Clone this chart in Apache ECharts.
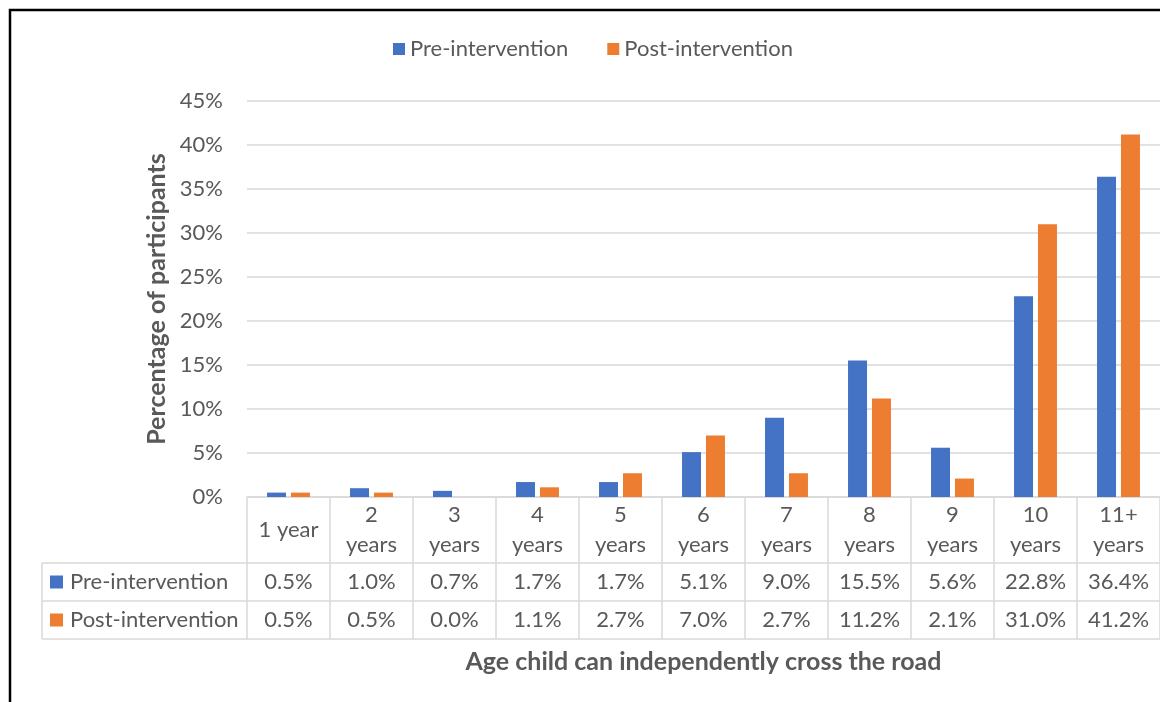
<!DOCTYPE html>
<html>
<head>
<meta charset="utf-8">
<script src="https://cdn.jsdelivr.net/npm/echarts@6/dist/echarts.min.js"></script>
<style>
  html, body { margin: 0; padding: 0; background: #ffffff; }
  #chart { width: 1160px; height: 702px; }
</style>
</head>
<body>
<div id="chart"></div>
<script>
// Age at which parents say a child can cross the road alone (% of participants)
const ageGroups = ['1 year', '2 years', '3 years', '4 years', '5 years', '6 years',
                   '7 years', '8 years', '9 years', '10 years', '11+ years'];
const preIntervention  = [0.5, 1.0, 0.7, 1.7, 1.7, 5.1, 9.0, 15.5, 5.6, 22.8, 36.4];
const postIntervention = [0.5, 0.5, 0.0, 1.1, 2.7, 7.0, 2.7, 11.2, 2.1, 31.0, 41.2];
const seriesNames = ['Pre-intervention', 'Post-intervention'];
const yTickValues = [0, 5, 10, 15, 20, 25, 30, 35, 40, 45];
const yAxisTitle = 'Percentage of participants';
const xAxisTitle = 'Age child can independently cross the road';

const COLORS = ['#4472C4', '#ED7D31'];
const TEXT = '#595959';
const RULE = '#D9D9D9';
const FONT = 'Lato';
const FS = 22;
const TITLE_FS = 25;

const chart = echarts.init(document.getElementById('chart'), null, { renderer: 'canvas' });

const pct = v => v.toFixed(1) + '%';

// Horizontal table rules drawn as bare axis lines
function ruleAxis(offset, extra) {
  return Object.assign({
    type: 'category', data: ageGroups, gridIndex: 0, position: 'bottom', offset: offset,
    axisLine: { show: true, lineStyle: { color: RULE, width: 1.5 } },
    axisTick: { show: false }, axisLabel: { show: false }, splitLine: { show: false }
  }, extra || {});
}

// One data-table row: the values as axis labels, the series key as the axis name
function rowAxis(offset, values, idx) {
  return {
    type: 'category', data: ageGroups, gridIndex: 0, position: 'bottom', offset: offset,
    axisLine: { show: false }, axisTick: { show: false }, splitLine: { show: false },
    axisLabel: {
      interval: 0, margin: 0, verticalAlign: 'middle',
      color: TEXT, fontFamily: FONT, fontSize: FS,
      formatter: (v, i) => pct(values[i])
    },
    name: '{sq| }{gap| }' + seriesNames[idx],
    nameLocation: 'start', nameGap: 197,
    nameTextStyle: {
      align: 'left', verticalAlign: 'middle',
      color: TEXT, fontFamily: FONT, fontSize: FS,
      rich: {
        sq: { width: 13, height: 13, backgroundColor: COLORS[idx] },
        gap: { width: 7 }
      }
    }
  };
}

const option = {
  backgroundColor: '#ffffff',
  animation: false,
  textStyle: { fontFamily: FONT, color: TEXT },
  legend: {
    data: seriesNames,
    left: 393, top: 38, padding: 0,
    itemWidth: 12, itemHeight: 12, itemGap: 39,
    icon: 'rect',
    textStyle: { color: TEXT, fontFamily: FONT, fontSize: FS }
  },
  grid: { left: 247, top: 101, width: 921.5, bottom: 205, containLabel: false },
  yAxis: {
    type: 'value', min: yTickValues[0], max: yTickValues[yTickValues.length - 1],
    interval: yTickValues[1] - yTickValues[0],
    axisLine: { show: false }, axisTick: { show: false },
    splitLine: { lineStyle: { color: RULE, width: 1.5 } },
    axisLabel: { formatter: '{value}%', margin: 24, color: TEXT, fontFamily: FONT, fontSize: FS },
    name: yAxisTitle, nameLocation: 'middle', nameGap: 72,
    nameTextStyle: { color: TEXT, fontFamily: FONT, fontSize: TITLE_FS, fontWeight: 'bold' }
  },
  xAxis: [
    {
      type: 'category', data: ageGroups, gridIndex: 0, position: 'bottom', offset: 0,
      axisLine: { show: true, lineStyle: { color: RULE, width: 1.5 } },
      axisTick: { show: true, interval: 0, length: 142, lineStyle: { color: RULE, width: 1.5 } },
      axisLabel: {
        interval: 0, margin: 33, verticalAlign: 'middle', lineHeight: 30,
        color: TEXT, fontFamily: FONT, fontSize: FS,
        formatter: v => v.replace(' years', '\nyears')
      }
    },
    ruleAxis(66),
    rowAxis(85, preIntervention, 0),
    ruleAxis(104),
    rowAxis(123, postIntervention, 1),
    ruleAxis(142, {
      name: xAxisTitle, nameLocation: 'middle', nameGap: 10,
      nameTextStyle: { color: TEXT, fontFamily: FONT, fontSize: TITLE_FS, fontWeight: 'bold' }
    })
  ],
  series: [
    {
      name: seriesNames[0], type: 'bar', xAxisIndex: 0, data: preIntervention,
      barWidth: 19, barGap: '26%', itemStyle: { color: COLORS[0] }
    },
    {
      name: seriesNames[1], type: 'bar', xAxisIndex: 0, data: postIntervention,
      barWidth: 19, barGap: '26%', itemStyle: { color: COLORS[1] }
    }
  ],
  graphic: [
    // outer chart border
    { type: 'rect', shape: { x: 10, y: 10, width: 1300, height: 900 },
      style: { fill: 'none', stroke: '#000000', lineWidth: 2.5 }, silent: true },
    // row-key column of the data table
    { type: 'line', shape: { x1: 42, y1: 563, x2: 247, y2: 563 }, style: { stroke: RULE, lineWidth: 1.5 } },
    { type: 'line', shape: { x1: 42, y1: 601, x2: 247, y2: 601 }, style: { stroke: RULE, lineWidth: 1.5 } },
    { type: 'line', shape: { x1: 42, y1: 639, x2: 247, y2: 639 }, style: { stroke: RULE, lineWidth: 1.5 } },
    { type: 'line', shape: { x1: 42, y1: 563, x2: 42, y2: 639 }, style: { stroke: RULE, lineWidth: 1.5 } }
  ]
};

chart.setOption(option);
</script>
</body>
</html>
